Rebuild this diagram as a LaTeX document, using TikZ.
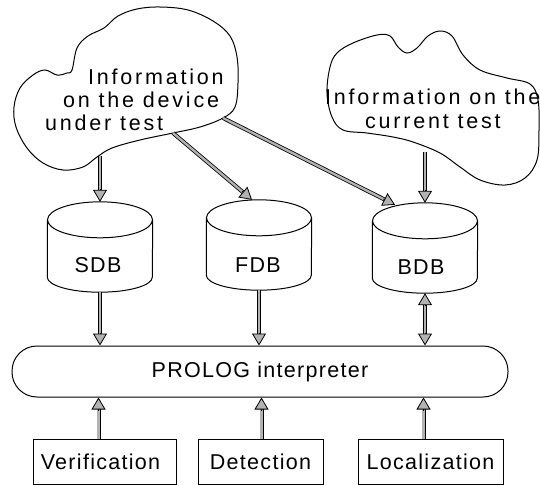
\documentclass[tikz,border=0pt]{standalone}
\usepackage{fontspec}
\setmainfont{Liberation Sans}[LetterSpace=6]
\newfontfamily\cloudfont{Liberation Sans}[LetterSpace=13]
\usetikzlibrary{arrows.meta,calc}

\tikzset{
  outline/.style={line width=1pt},
  shaft/.style={line width=0.8pt, double=gray!60, double distance=2.4pt},
  headtip/.style={line width=0.8pt, -{Triangle[length=12pt,width=14pt,fill=gray!60]}},
  dbbox/.style={minimum width=105pt, minimum height=90pt, inner sep=0pt},
  txt/.style={inner sep=0pt, font=\fontsize{21.5}{25}\selectfont},
  cloudtxt/.style={inner sep=0pt, anchor=west, font=\cloudfont\fontsize{21.5}{25}\selectfont},
  taskbox/.style={draw, outline, minimum height=45pt, inner sep=0pt, font=\fontsize{21.5}{25}\selectfont},
}

% arrow with a hollow double shaft and a grey triangular head at #2
\newcommand\dflow[2]{%
  \draw[shaft] (#1) -- ($(#2)!11pt!(#1)$);
  \draw[headtip] ($(#2)!13pt!(#1)$) -- (#2);
}
% arrow with heads at both ends
\newcommand\dflowboth[2]{%
  \draw[shaft] ($(#1)!11pt!(#2)$) -- ($(#2)!11pt!(#1)$);
  \draw[headtip] ($(#1)!13pt!(#2)$) -- (#1);
  \draw[headtip] ($(#2)!13pt!(#1)$) -- (#2);
}
% database drum drawn around a named box
\newcommand\drum[1]{%
  \draw[outline] ($(#1.north)+(0,18)$) ellipse[x radius=52.5pt, y radius=18pt];
  \draw[outline] ($(#1.north west)+(0,18)$) -- ($(#1.south west)+(0,-15)$)
    arc[start angle=180, end angle=360, x radius=52.5pt, y radius=15pt]
    -- ($(#1.north east)+(0,18)$);
}

\begin{document}
\begin{tikzpicture}[x=1pt, y=-1pt]
\useasboundingbox (0,0) rectangle (540,485);

% device information cloud
\draw[outline] plot[smooth cycle, tension=0.6] coordinates {
  (72,70) (77,48) (88,36) (104,28) (118,16) (137,9) (160,7) (188,10) (213,21)
  (230,36) (237,57) (238,83) (235,107) (223,118) (200,127) (173,133) (140,140)
  (112,148) (97,157) (83,167) (63,170) (43,163) (27,148) (16,127) (14,107)
  (20,88) (33,75) (45,70) (57,75) (67,73)};
\node[cloudtxt] (d1) at (88,77)  {Information};
\node[cloudtxt] (d2) at (63,100) {on the device};
\node[cloudtxt] (d3) at (45,123) {under test};

% current test cloud
\draw[outline] plot[smooth cycle, tension=0.6] coordinates {
  (327,93) (330,67) (337,53) (353,43) (377,35) (390,36) (398,47) (407,53)
  (417,48) (428,36) (440,31) (452,36) (463,55) (480,70) (507,78) (530,84)
  (538,100) (539,130) (537,160) (525,178) (505,185) (480,180) (460,167)
  (440,153) (413,142) (393,137) (367,133) (343,130) (332,117)};
\node[cloudtxt] (t1) at (325,97)  {Information on the};
\node[cloudtxt] (t2) at (365,122) {current test};

% cloud exit points
\coordinate (c1a) at (100,156);
\coordinate (c1b) at (173,133);
\coordinate (c1c) at (223,118);
\coordinate (c2a) at (425,152);

% databases
\node[dbbox] (sdb) at (100,247) {};
\node[dbbox] (fdb) at (259,245) {};
\node[dbbox] (bdb) at (425,248) {};
\drum{sdb}\drum{fdb}\drum{bdb}
\node[txt] (sdbl) at (98,265) {SDB};
\node[txt] (fdbl) at (258,265) {FDB};
\node[txt] (bdbl) at (421,267) {BDB};

% interpreter
\node[draw, outline, rounded corners=25pt, minimum width=496pt, minimum height=51pt,
      txt] (pro) at (260,371.5) {PROLOG interpreter};

% task boxes
\node[taskbox, minimum width=143pt] (ver) at (104.5,461.5) {Verification\hspace*{8pt}};
\node[taskbox, minimum width=125pt] (det) at (260.5,461.5) {Detection};
\node[taskbox, minimum width=145pt] (loc) at (430.5,461.5) {Localization};

% arrow ends on the drums and the interpreter
\coordinate (fdbin) at ($(fdb.north)+(-7,0)$);
\coordinate (bdbin) at ($(bdb.north)+(-30,2)$);
\coordinate (sdbout) at (sdb.south |- pro.north);
\coordinate (fdbout) at (fdb.south |- pro.north);
\coordinate (bdbout) at (bdb.south |- pro.north);
\coordinate (vt) at ($(ver.north)+(-6,0)$);
\coordinate (dt) at ($(det.north)+(1,0)$);
\coordinate (lt) at ($(loc.north)+(-7,0)$);
\coordinate (vp) at (vt |- pro.south);
\coordinate (dp) at (dt |- pro.south);
\coordinate (lp) at (lt |- pro.south);

% information flow into the databases
\dflow{c1a}{sdb.north}
\dflow{c1b}{fdbin}
\dflow{c1c}{bdbin}
\dflow{c2a}{bdb.north}

% databases to interpreter
\dflow{sdb.south}{sdbout}
\dflow{fdb.south}{fdbout}
\dflowboth{bdb.south}{bdbout}

% tasks to interpreter
\dflow{vt}{vp}
\dflow{dt}{dp}
\dflow{lt}{lp}
\end{tikzpicture}
\end{document}
